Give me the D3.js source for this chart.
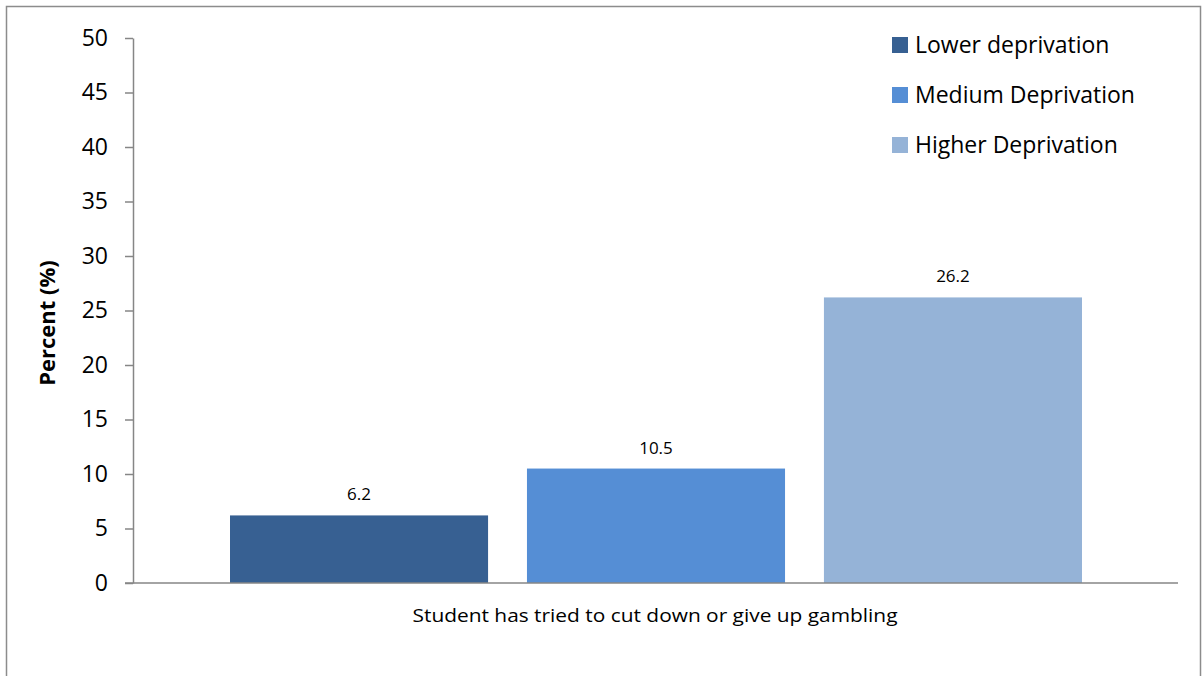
<!DOCTYPE html>
<html><head><meta charset="utf-8">
<script src="https://cdn.jsdelivr.net/npm/d3@7"></script>
<style>body{margin:0;background:#fff}svg{display:block}text{font-family:"Open Sans",sans-serif;fill:#000}</style>
</head><body>
<svg id="c" width="1204" height="676"></svg>
<script>
const category = ["Student has tried to cut down or give up gambling"];
const series = ["Lower deprivation", "Medium Deprivation", "Higher Deprivation"];
const values = [6.2, 10.5, 26.2];
const colors = ["#376092", "#558ED5", "#95B3D7"];
const yTicks = [0, 5, 10, 15, 20, 25, 30, 35, 40, 45, 50];

(function () {
const svg = d3.select("#c");
svg.append("rect").attr("x", 6.5).attr("y", 6.5).attr("width", 1194).attr("height", 680)
  .attr("fill", "#fff").attr("stroke", "#8c8c8c").attr("stroke-width", 1.5);

const pLeft = 133, pRight = 1178, pTop = 38, pBottom = 583;
const y = d3.scaleLinear().domain([0, 50]).range([pBottom, pTop]);
const x0 = d3.scaleBand().domain(category).range([pLeft, pRight]).paddingInner(0).paddingOuter(0);
const x1 = d3.scaleBand().domain(series).range([230 - pLeft, 1082 - pLeft]).paddingInner(0.131).paddingOuter(0);

// y axis
const ya = svg.append("g").attr("transform", `translate(${pLeft},0)`)
  .call(d3.axisLeft(y).tickValues(yTicks).tickSize(8).tickPadding(17).tickSizeOuter(0));
ya.select(".domain").attr("stroke", "#868686").attr("stroke-width", 1.5);
ya.selectAll(".tick line").attr("stroke", "#868686").attr("stroke-width", 1.5);
ya.selectAll(".tick text").attr("font-size", 23).attr("font-family", "Open Sans").attr("fill", "#000");

// bars
const g = svg.append("g").attr("transform", `translate(${x0(category[0])},0)`);
g.selectAll("rect").data(values).join("rect")
  .attr("x", (d, i) => x1(series[i])).attr("width", x1.bandwidth())
  .attr("y", d => y(d)).attr("height", d => y(0) - y(d))
  .attr("fill", (d, i) => colors[i]);
g.selectAll("text.lbl").data(values).join("text").attr("class", "lbl")
  .attr("x", (d, i) => x1(series[i]) + x1.bandwidth() / 2)
  .attr("y", d => y(d) - 15).attr("text-anchor", "middle").attr("font-size", 17)
  .text(d => d.toFixed(1));

// x axis
svg.append("line").attr("x1", pLeft - 8).attr("x2", pRight).attr("y1", pBottom).attr("y2", pBottom)
  .attr("stroke", "#868686").attr("stroke-width", 1.5);
svg.append("text").attr("x", x0(category[0]) + 522).attr("y", 622).attr("text-anchor", "middle")
  .attr("font-size", 17.5).attr("textLength", 485).attr("lengthAdjust", "spacingAndGlyphs").text(category[0]);

// y title
svg.append("text").attr("transform", "translate(55,323) rotate(-90)").attr("text-anchor", "middle")
  .attr("font-size", 22).attr("font-weight", "bold").text("Percent (%)");

// legend
const lg = svg.append("g");
series.forEach((s, i) => {
  lg.append("rect").attr("x", 892).attr("y", 37 + i * 50).attr("width", 16).attr("height", 16).attr("fill", colors[i]);
  lg.append("text").attr("x", 915).attr("y", 53 + i * 50).attr("font-size", 23).text(s);
});
})();
</script>
</body></html>
